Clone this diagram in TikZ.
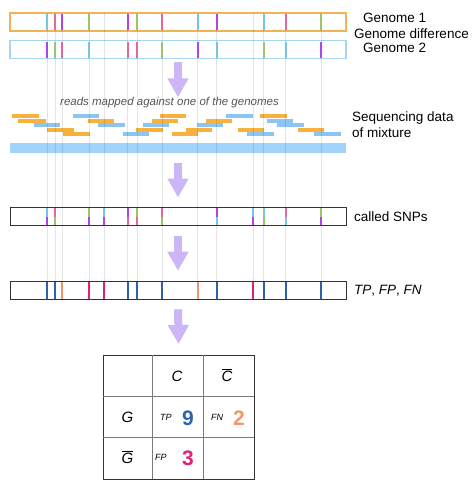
\documentclass[tikz,border=0pt]{standalone}
\usepackage{fontspec}
\setmainfont{Liberation Sans}
\usetikzlibrary{arrows.meta}
\definecolor{GenomeOne}{HTML}{F0B454}
\definecolor{GenomeTwo}{HTML}{A6D6F2}
\definecolor{SnpBlue}{HTML}{78C3E6}
\definecolor{SnpPink}{HTML}{E5679F}
\definecolor{SnpPurple}{HTML}{B341EE}
\definecolor{SnpGreen}{HTML}{9BC56B}
\definecolor{ReadOrange}{HTML}{F7B13C}
\definecolor{ReadBlue}{HTML}{8CC5F2}
\definecolor{MixBlue}{HTML}{A2D3FA}
\definecolor{ArrowPurple}{HTML}{CDB6F7}
\definecolor{TpBlue}{HTML}{2F62AE}
\definecolor{FnOrange}{HTML}{F0956E}
\definecolor{FpPink}{HTML}{E0207A}
\definecolor{NiceBlack}{HTML}{333333}
\definecolor{NoteGray}{HTML}{555555}
\definecolor{GridGray}{HTML}{7A7A7A}

\begin{document}
\begin{tikzpicture}[x=1pt, y=-1pt,
    bar/.style={draw=NiceBlack, line width=1pt, minimum width=336pt,
      minimum height=17.6pt, inner sep=0pt, outer sep=0pt},
    snp/.style={line width=2pt},
    guide/.style={black, opacity=0.1, line width=0.8pt},
    bigarrow/.style={ArrowPurple, line width=8pt,
      -{Triangle[width=20pt,length=19pt]}},
    sidetext/.style={anchor=base west, inner sep=0pt,
      font=\fontsize{13.5}{16}\selectfont},
    cell/.style={inner sep=0pt, font=\fontsize{15}{18}\selectfont},
    small/.style={anchor=base west, inner sep=0pt,
      font=\fontsize{9}{11}\selectfont},
    num/.style={anchor=base west, inner sep=0pt,
      font=\fontsize{21}{24}\selectfont\bfseries}]
  \useasboundingbox (0,0) rectangle (476,493);
  % Genomes
  \node[bar, draw=GenomeOne, line width=1.5pt] (gone) at (178,22) {};
  \node[bar, draw=GenomeTwo, line width=1.5pt] (gtwo) at (178,49.5) {};
  \node[sidetext] (gonetext) at (363,22) {Genome 1};
  \node[sidetext] (gdiff) at (354,38) {Genome difference};
  \node[sidetext] (gtwotext) at (363,52) {Genome 2};
  % Reads
  \node[anchor=base, inner sep=0pt, NoteGray,
    font=\fontsize{11.5}{14}\selectfont\itshape] (note) at (169.5,105.7)
    {reads mapped against one of the genomes};
  \foreach \a/\b/\y in {12/39/114, 18/46/118.5, 47/74/127.5, 63/90/132,
    88/114/118.5, 136/163/127.5, 152/178/118.5, 160/186/114, 172/198/132,
    186/212/127.5, 206/232/118.5, 238/264/127.5, 260/287/114, 298/324/127.5}
    \fill[ReadOrange] (\a,\y) rectangle (\b,\y+4);
  \foreach \a/\b/\y in {73/99/114, 34/60/123, 98/125/123, 123/149/132,
    143/169/123, 197/223/123, 226/253/114, 247/274/132, 267/293/118.5,
    277/304/123, 314/341/132}
    \fill[ReadBlue] (\a,\y) rectangle (\b,\y+4);
  \node[bar, draw=none, fill=MixBlue, minimum height=10pt] (mix)
    at (178,148.3) {};
  \node[sidetext] (seqtext) at (352,121) {Sequencing data};
  \node[sidetext] (seqtextb) at (352,137.5) {of mixture};
  % SNP calls and evaluation
  \node[bar, minimum height=18pt] (called) at (178,216.5) {};
  \node[sidetext] (calledtext) at (354,221.5) {called SNPs};
  \node[bar] (result) at (178,290.5) {};
  \node[sidetext] (resulttext) at (354,294.3)
    {\textit{TP}, \textit{FP}, \textit{FN}};
  % help lines
  \foreach \x in {47.3, 55, 62.3, 89, 104, 127.7, 137, 162, 197.5, 216.7,
    253.3, 263.7, 285.7, 321}
    \draw[guide] (\x,13) -- (\x,282);
  % markers
  \foreach \x/\c in {47.3/SnpBlue, 55/SnpPink, 62.3/SnpPurple, 89/SnpGreen,
    127.7/SnpPurple, 137/SnpGreen, 162/SnpPink, 197.5/SnpBlue,
    216.7/SnpPurple, 263.7/SnpBlue, 285.7/SnpPink, 321/SnpGreen}
    \draw[snp, \c] (\x,14) -- (\x,30);
  \foreach \x/\c in {47.3/SnpPurple, 55/SnpGreen, 62.3/SnpPink, 89/SnpBlue,
    127.7/SnpPink, 137/SnpPink, 162/SnpGreen, 197.5/SnpPurple,
    216.7/SnpBlue, 263.7/SnpGreen, 285.7/SnpBlue, 321/SnpPurple}
    \draw[snp, \c] (\x,41.5) -- (\x,57.5);
  \foreach \x/\c/\d in {47.3/SnpBlue/SnpPurple, 55/SnpPink/SnpGreen,
    89/SnpGreen/SnpPurple, 104/SnpBlue/SnpPurple, 127.7/SnpPurple/SnpPink,
    137/SnpGreen/SnpPink, 162/SnpPink/SnpGreen, 216.7/SnpPurple/SnpBlue,
    253.3/SnpBlue/SnpPurple, 263.7/SnpBlue/SnpGreen, 285.7/SnpPink/SnpBlue,
    321/SnpGreen/SnpPurple} {
    \draw[snp, \c] (\x,208) -- (\x,216.5);
    \draw[snp, \d] (\x,216.5) -- (\x,225);
  }
  \foreach \x/\c in {47.3/TpBlue, 55/TpBlue, 62.3/FnOrange, 89/FpPink,
    104/FpPink, 127.7/TpBlue, 137/TpBlue, 162/TpBlue, 197.5/FnOrange,
    216.7/TpBlue, 253.3/FpPink, 263.7/TpBlue, 285.7/TpBlue, 321/TpBlue}
    \draw[snp, \c] (\x,282.2) -- (\x,298.8);
  % Table
  \node[draw=NiceBlack, line width=1pt, minimum width=150.7pt,
    minimum height=124pt, inner sep=0pt, outer sep=0pt] (tab)
    at (178.65,417) {};
  \draw[GridGray, line width=1pt] (152.7,355) -- (152.7,479)
    (203.3,355) -- (203.3,479) (103.3,396.7) -- (254,396.7)
    (103.3,437.7) -- (254,437.7);
  \node[cell] (hc) at (177,376) {\textit{C}};
  \node[cell] (hcbar) at (227,375) {$\overline{\mbox{\textit{C}}}$};
  \node[cell] (rg) at (127.5,417) {\textit{G}};
  \node[cell] (rgbar) at (127.5,457) {$\overline{\mbox{\textit{G}}}$};
  \node[small] (tplab) at (160,420.7) {\textit{TP}};
  \node[num, TpBlue] (tpnum) at (182,425) {9};
  \node[small] (fnlab) at (211,420.7) {\textit{FN}};
  \node[num, FnOrange] (fnnum) at (233,425) {2};
  \node[small] (fplab) at (155,460.7) {\textit{FP}};
  \node[num, FpPink] (fpnum) at (182,465.7) {3};
  % Arrows
  \draw[bigarrow] ([yshift=-4pt]gtwo.south) -- ++(0,35);
  \draw[bigarrow] ([yshift=-10pt]mix.south) -- ([yshift=10pt]called.north);
  \draw[bigarrow] ([yshift=-10pt]called.south) -- ([yshift=11pt]result.north);
  \draw[bigarrow] ([yshift=-10pt]result.south) -- ([yshift=11pt]tab.north);
\end{tikzpicture}
\end{document}
